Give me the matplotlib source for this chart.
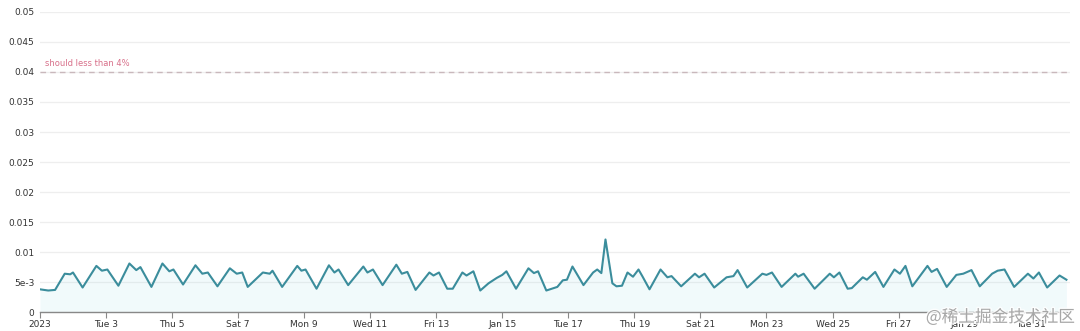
from matplotlib import pyplot as plt
import matplotlib.patheffects as pe
import numpy as np

# hours since 2023-01-01 00:00 and the error rate
hours = [0, 6, 11, 18, 22, 24, 31, 41, 45, 49, 57, 65, 70, 73, 81, 89, 94, 97,
         104, 113, 118, 122, 129, 138, 143, 147, 151, 162, 167, 169, 176, 187,
         190, 193, 201, 210, 214, 217, 224, 235, 238, 242, 249, 259, 263, 267,
         273, 283, 286, 290, 296, 300, 307, 310, 315, 320, 326, 332, 336, 339,
         346, 355, 359, 362, 368, 376, 380, 383, 387, 395, 402, 405, 408, 411,
         416, 419, 423, 427, 431, 435, 438, 443, 451, 456, 459, 466, 476, 479,
         483, 490, 499, 504, 507, 514, 525, 528, 532, 539, 549, 551, 555, 563,
         574, 577, 581, 587, 590, 598, 601, 607, 613, 621, 625, 629, 634, 645,
         648, 652, 659, 666, 671, 677, 683, 692, 696, 701, 708, 718, 722, 726,
         732, 741, 746]
rates = [.0038, .0036, .0037, .0064, .0063, .0066, .0041, .0077, .0069, .0071,
         .0044, .0081, .0070, .0075, .0042, .0081, .0068, .0071, .0046, .0078,
         .0064, .0066, .0043, .0073, .0064, .0066, .0042, .0066, .0064, .0069,
         .0042, .0077, .0069, .0071, .0039, .0078, .0066, .0071, .0045, .0076,
         .0066, .0071, .0045, .0079, .0064, .0067, .0037, .0066, .0061, .0066,
         .0039, .0039, .0066, .0061, .0068, .0036, .0048, .0057, .0062, .0068,
         .0039, .0073, .0065, .0068, .0036, .0042, .0053, .0054, .0076, .0045,
         .0066, .0071, .0065, .0121, .0048, .0043, .0044, .0066, .0059, .0071,
         .0059, .0038, .0071, .0058, .0060, .0043, .0064, .0058, .0064, .0041,
         .0058, .0060, .0070, .0041, .0064, .0062, .0066, .0042, .0064, .0059,
         .0064, .0039, .0064, .0058, .0066, .0039, .0040, .0058, .0054, .0067,
         .0042, .0071, .0064, .0077, .0043, .0077, .0067, .0072, .0042, .0062,
         .0064, .0070, .0043, .0064, .0069, .0071, .0042, .0064, .0056, .0066,
         .0041, .0061, .0054]

tick_days = list(range(0, 31, 2))
tick_labels = ["2023", "Tue 3", "Thu 5", "Sat 7", "Mon 9", "Wed 11", "Fri 13",
               "Jan 15", "Tue 17", "Thu 19", "Sat 21", "Mon 23", "Wed 25",
               "Fri 27", "Jan 29", "Tue 31"]
y_ticks = [0, 0.005, 0.01, 0.015, 0.02, 0.025, 0.03, 0.035, 0.04, 0.045, 0.05]
y_labels = ["0", "5e-3", "0.01", "0.015", "0.02", "0.025", "0.03", "0.035",
            "0.04", "0.045", "0.05"]
threshold = 0.04

days = np.array(hours) / 24.0

fig = plt.figure(figsize=(10.8, 3.31), dpi=100)
ax = fig.add_axes([0.037, 0.057, 0.954, 0.907])

ax.fill_between(days, rates, 0, color="#7fd3e0", alpha=0.10, lw=0)
ax.plot(days, rates, color="#3b8d9c", lw=1.5, solid_joinstyle="round")

ax.axhline(threshold, color="#c9b8bc", lw=1.0, ls=(0, (4, 3)))
ax.text(0.15, threshold + 0.0006, "should less than 4%", color="#d8708a",
        fontsize=6, va="bottom", ha="left")

ax.set_xlim(0, 31.2)
ax.set_ylim(0, 0.05)
ax.set_xticks(tick_days)
ax.set_xticklabels(tick_labels)
ax.set_yticks(y_ticks)
ax.set_yticklabels(y_labels)
ax.tick_params(axis="x", labelsize=6.5, colors="#333333", length=4, pad=2,
               color="#888888")
ax.tick_params(axis="y", labelsize=6.5, colors="#333333", length=0, pad=4)
ax.grid(axis="y", color="#eeeeee", lw=0.9)
ax.set_axisbelow(True)
for side in ["top", "right", "left"]:
    ax.spines[side].set_visible(False)
ax.spines["bottom"].set_color("#888888")
ax.spines["bottom"].set_linewidth(1.0)

fig.text(0.995, 0.015, "@稀土掘金技术社区", ha="right", va="bottom",
         fontsize=12, color="#9a9a9a", alpha=0.85,
         family=["Noto Sans CJK SC", "DejaVu Sans"],
         path_effects=[pe.withStroke(linewidth=2, foreground="white")])

fig.savefig("out.png", dpi=100)
